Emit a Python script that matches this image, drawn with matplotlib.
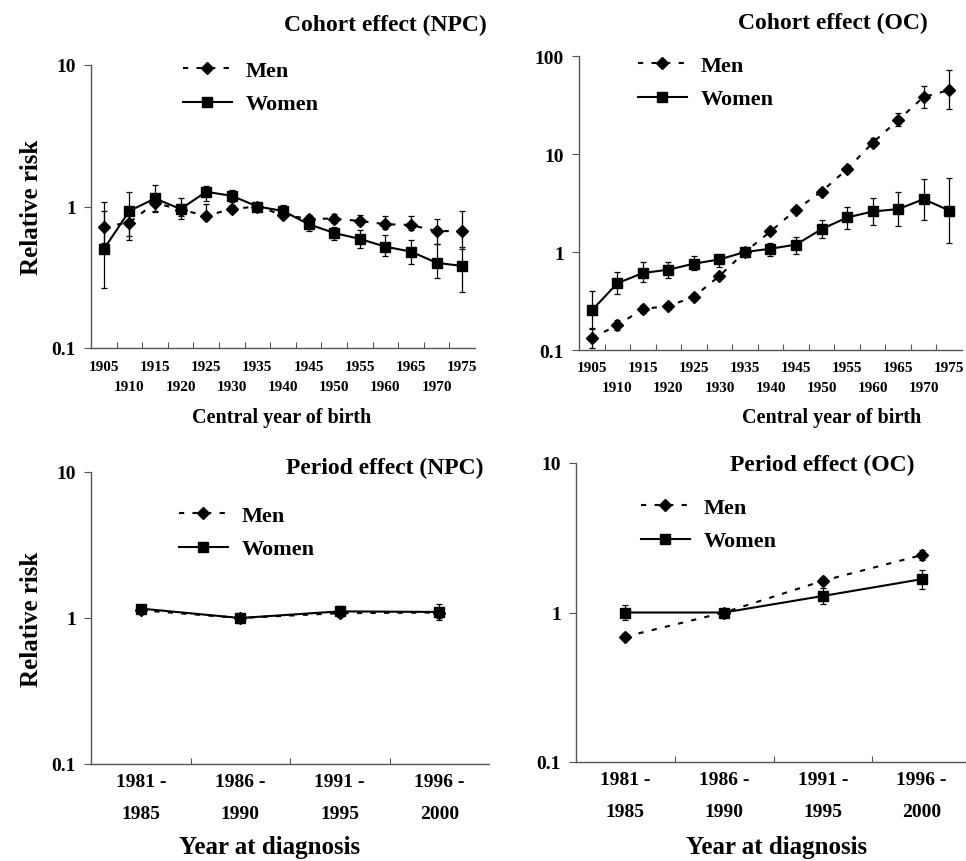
import matplotlib
matplotlib.use('Agg')
import matplotlib.pyplot as plt
from matplotlib.lines import Line2D
import numpy as np

plt.rcParams['font.family'] = ['Liberation Serif', 'DejaVu Serif']
plt.rcParams['font.weight'] = 'bold'

# ---- data ----
cohort_years = ['1905', '1910', '1915', '1920', '1925', '1930', '1935', '1940',
                '1945', '1950', '1955', '1960', '1965', '1970', '1975']

npc_men = [0.72, 0.77, 1.06, 0.95, 0.86, 0.96, 1.0, 0.87, 0.82, 0.82, 0.79, 0.75, 0.74, 0.67, 0.67]
npc_men_lo = [0.55, 0.58, 0.93, 0.85, 0.80, 0.92, 1.0, 0.83, 0.77, 0.76, 0.74, 0.69, 0.68, 0.54, 0.50]
npc_men_hi = [0.93, 0.96, 1.18, 1.05, 1.05, 1.02, 1.0, 0.92, 0.87, 0.89, 0.87, 0.85, 0.86, 0.81, 0.93]
npc_women = [0.50, 0.93, 1.14, 0.96, 1.27, 1.19, 1.0, 0.93, 0.75, 0.65, 0.59, 0.52, 0.48, 0.40, 0.38]
npc_women_lo = [0.265, 0.62, 0.92, 0.81, 1.10, 1.08, 1.0, 0.85, 0.67, 0.58, 0.51, 0.45, 0.39, 0.31, 0.25]
npc_women_hi = [1.08, 1.27, 1.42, 1.14, 1.40, 1.31, 1.0, 1.02, 0.83, 0.72, 0.68, 0.63, 0.58, 0.54, 0.52]

oc_men = [0.133, 0.178, 0.263, 0.28, 0.35, 0.57, 1.0, 1.62, 2.7, 4.14, 7.0, 13.0, 22.2, 38.3, 44.8]
oc_men_lo = [0.105, 0.16, 0.24, 0.26, 0.33, 0.54, 1.0, 1.52, 2.55, 3.9, 6.6, 12.0, 19.5, 29.8, 28.7]
oc_men_hi = [0.165, 0.20, 0.29, 0.30, 0.37, 0.60, 1.0, 1.72, 2.85, 4.4, 7.4, 14.5, 26.0, 49.5, 72.6]
oc_women = [0.253, 0.48, 0.61, 0.66, 0.76, 0.84, 1.0, 1.08, 1.19, 1.71, 2.25, 2.59, 2.74, 3.46, 2.65]
oc_women_lo = [0.169, 0.37, 0.49, 0.54, 0.65, 0.71, 1.0, 0.92, 0.95, 1.39, 1.71, 1.90, 1.85, 2.13, 1.23]
oc_women_hi = [0.40, 0.63, 0.785, 0.785, 0.90, 0.94, 1.0, 1.25, 1.42, 2.13, 2.86, 3.57, 4.10, 5.50, 5.65]

period_top = ['1981 -', '1986 -', '1991 -', '1996 -']
period_bot = ['1985', '1990', '1995', '2000']

npc_p_men = [1.13, 1.0, 1.08, 1.09]
npc_p_men_lo = [1.10, 1.0, 1.02, 1.00]
npc_p_men_hi = [1.17, 1.0, 1.15, 1.18]
npc_p_women = [1.16, 1.0, 1.11, 1.10]
npc_p_women_lo = [1.12, 1.0, 1.03, 0.97]
npc_p_women_hi = [1.20, 1.0, 1.20, 1.25]

oc_p_men = [0.69, 1.0, 1.63, 2.42]
oc_p_men_lo = [0.65, 1.0, 1.55, 2.25]
oc_p_men_hi = [0.73, 1.0, 1.72, 2.60]
oc_p_women = [1.0, 1.0, 1.29, 1.67]
oc_p_women_lo = [0.89, 1.0, 1.14, 1.43]
oc_p_women_hi = [1.125, 1.0, 1.45, 1.92]

W, H = 966, 862
fig = plt.figure(figsize=(W / 100, H / 100), dpi=100)

MEN_LS = (0, (2.5, 4))


def px_axes(x0, y0, x1, y1):
    return fig.add_axes([x0 / W, 1 - y1 / H, (x1 - x0) / W, (y1 - y0) / H])


def draw_series(ax, vals, lo, hi, men):
    x = np.arange(len(vals))
    v = np.array(vals)
    err = [v - np.array(lo), np.array(hi) - v]
    if men:
        ax.errorbar(x, v, yerr=err, color='black', ls=MEN_LS, lw=1.5,
                    marker='D', ms=6, capsize=2.5, elinewidth=0.9, capthick=0.9, zorder=3)
    else:
        ax.errorbar(x, v, yerr=err, color='black', ls='-', lw=1.5,
                    marker='s', ms=7, capsize=2.5, elinewidth=0.9, capthick=0.9, zorder=4)


def style_axes(ax, n, ylim, yticks, ylabels):
    ax.set_yscale('log')
    ax.set_ylim(ylim)
    ax.set_xlim(-0.5, n - 0.5)
    ax.set_yticks(yticks)
    ax.set_yticklabels(ylabels, fontsize=14, fontweight='bold')
    ax.yaxis.set_minor_locator(matplotlib.ticker.NullLocator())
    ax.set_xticks(np.arange(n - 1) + 0.5)
    ax.set_xticklabels([])
    ax.tick_params(axis='x', direction='in', length=4, width=0.8, color='#555555')
    ax.tick_params(axis='y', direction='out', length=5, width=0.8, color='#555555', pad=6)
    for s in ['top', 'right']:
        ax.spines[s].set_visible(False)
    for s in ['left', 'bottom']:
        ax.spines[s].set_color('#555555')
        ax.spines[s].set_linewidth(1.0)
    ax.patch.set_alpha(0)


def add_legend(ax, x, y):
    handles = [Line2D([], [], color='black', ls=MEN_LS, lw=1.5, marker='D', ms=6),
               Line2D([], [], color='black', ls='-', lw=1.5, marker='s', ms=7)]
    ax.legend(handles, ['Men', 'Women'], loc='upper left', bbox_to_anchor=(x / W, 1 - y / H),
              bbox_transform=fig.transFigure, frameon=False, fontsize=16,
              handlelength=2.2, handletextpad=0.6, labelspacing=0.6, borderpad=0, borderaxespad=0)


def cohort_labels(ax, row1, row2):
    for i, lab in enumerate(cohort_years):
        off = row1 if i % 2 == 0 else row2
        ax.annotate(lab, xy=(i, 0), xycoords=('data', 'axes fraction'),
                    xytext=(0, -off * 0.72), textcoords='offset points',
                    ha='center', va='center', fontsize=11, fontweight='bold')


def period_labels(ax):
    for i in range(len(period_top)):
        ax.annotate(period_top[i], xy=(i, 0), xycoords=('data', 'axes fraction'),
                    xytext=(0, -18 * 0.72), textcoords='offset points',
                    ha='center', va='center', fontsize=14, fontweight='bold')
        ax.annotate(period_bot[i], xy=(i, 0), xycoords=('data', 'axes fraction'),
                    xytext=(0, -50 * 0.72), textcoords='offset points',
                    ha='center', va='center', fontsize=14, fontweight='bold')


# cohort NPC
ax1 = px_axes(91, 66, 475, 349)
draw_series(ax1, npc_men, npc_men_lo, npc_men_hi, True)
draw_series(ax1, npc_women, npc_women_lo, npc_women_hi, False)
style_axes(ax1, 15, (0.1, 10), [0.1, 1, 10], ['0.1', '1', '10'])
cohort_labels(ax1, 19, 39)
ax1.set_ylabel('Relative risk', fontsize=18, fontweight='bold', labelpad=6)
add_legend(ax1, 183, 61)

# cohort OC
ax2 = px_axes(579, 57, 962, 351)
draw_series(ax2, oc_men, oc_men_lo, oc_men_hi, True)
draw_series(ax2, oc_women, oc_women_lo, oc_women_hi, False)
style_axes(ax2, 15, (0.1, 100), [0.1, 1, 10, 100], ['0.1', '1', '10', '100'])
cohort_labels(ax2, 18, 38)
add_legend(ax2, 638, 56)

# period NPC
ax3 = px_axes(91, 473, 489, 765)
draw_series(ax3, npc_p_men, npc_p_men_lo, npc_p_men_hi, True)
draw_series(ax3, npc_p_women, npc_p_women_lo, npc_p_women_hi, False)
style_axes(ax3, 4, (0.1, 10), [0.1, 1, 10], ['0.1', '1', '10'])
period_labels(ax3)
ax3.set_ylabel('Relative risk', fontsize=18, fontweight='bold', labelpad=6)
add_legend(ax3, 179, 506)

# period OC
ax4 = px_axes(576, 464, 971, 763)
draw_series(ax4, oc_p_men, oc_p_men_lo, oc_p_men_hi, True)
draw_series(ax4, oc_p_women, oc_p_women_lo, oc_p_women_hi, False)
style_axes(ax4, 4, (0.1, 10), [0.1, 1, 10], ['0.1', '1', '10'])
period_labels(ax4)
add_legend(ax4, 641, 498)

# titles and axis titles
fig.text(385 / W, 1 - 25 / H, 'Cohort effect (NPC)', ha='center', va='center', fontsize=17, fontweight='bold')
fig.text(833 / W, 1 - 23 / H, 'Cohort effect (OC)', ha='center', va='center', fontsize=17, fontweight='bold')
fig.text(385 / W, 1 - 468 / H, 'Period effect (NPC)', ha='center', va='center', fontsize=17, fontweight='bold')
fig.text(822 / W, 1 - 465 / H, 'Period effect (OC)', ha='center', va='center', fontsize=17, fontweight='bold')
fig.text(282 / W, 1 - 418 / H, 'Central year of birth', ha='center', va='center', fontsize=14.5, fontweight='bold')
fig.text(832 / W, 1 - 418 / H, 'Central year of birth', ha='center', va='center', fontsize=14.5, fontweight='bold')
fig.text(270 / W, 1 - 848 / H, 'Year at diagnosis', ha='center', va='center', fontsize=18, fontweight='bold')
fig.text(777 / W, 1 - 848 / H, 'Year at diagnosis', ha='center', va='center', fontsize=18, fontweight='bold')

fig.savefig('out.png', dpi=100)
